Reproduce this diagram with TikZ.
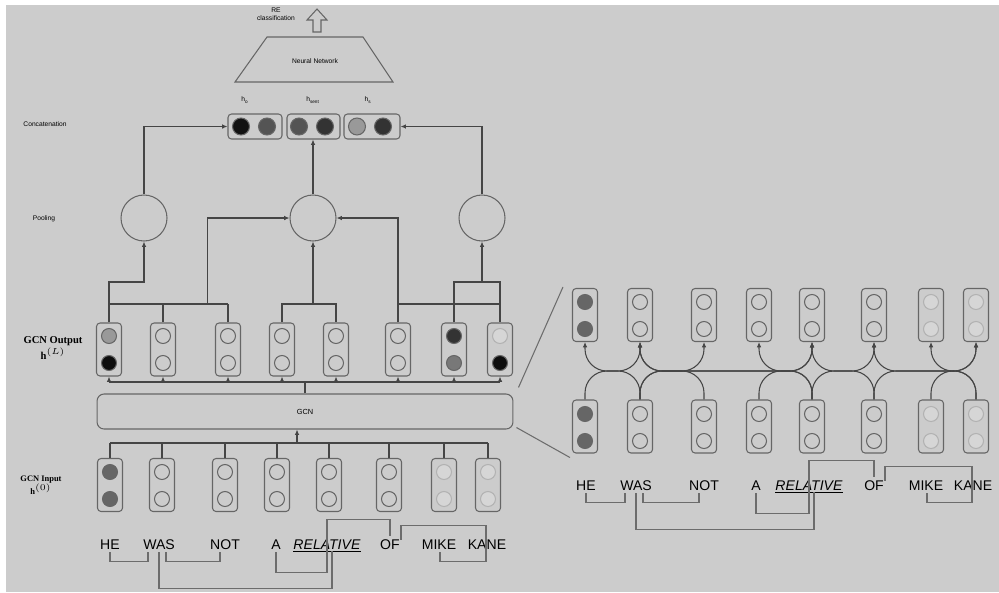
\documentclass[tikz,border=0pt]{standalone}
\usepackage{fontspec}
\setmainfont{Liberation Serif}
\setsansfont{Liberation Sans}
\usepackage{tikz}
\usetikzlibrary{positioning}
\usetikzlibrary{arrows.meta}
\usetikzlibrary{calc}
\definecolor{bg}{HTML}{CCCCCC}
\definecolor{wire}{HTML}{454545}
\definecolor{rim}{HTML}{666666}
\definecolor{dep_gray}{HTML}{6C6C6C}
\tikzset{
cell/.style={rectangle, rounded corners=2pt, draw=rim, line width=0.6pt, minimum width=0.5cm, minimum height=1.06cm},
cat_box/.style={rectangle, rounded corners=2pt, draw=rim, line width=0.6pt, minimum width=1.08cm, minimum height=0.5cm},
dot/.style={circle, draw=rim, line width=0.6pt, minimum size=0.3cm, inner sep=0pt},
hollow_dot/.style={dot},
dark_dot/.style={dot, fill=black!60},
pale_dot/.style={dot, fill=black!16, draw=black!30},
gray_dot/.style={dot, fill=black!40},
black_dot/.style={dot, fill=black!95},
coal_dot/.style={dot, fill=black!80},
ash_dot/.style={dot, fill=black!53},
big_dot/.style={dot, minimum size=0.34cm},
pool/.style={circle, draw=rim, line width=0.6pt, minimum size=0.92cm},
gcn_box/.style={rectangle, rounded corners=4pt, draw=rim, line width=0.6pt, minimum width=8.32cm, minimum height=0.7cm, font=\sffamily\fontsize{4.2}{5}\selectfont},
tiny_label/.style={font=\sffamily\fontsize{3.8}{4.4}\selectfont, align=center, inner sep=0pt},
side_label/.style={font=\bfseries\fontsize{6}{7}\selectfont, align=center, inner sep=0pt},
word/.style={font=\sffamily\fontsize{8}{9}\selectfont, inner sep=0pt, text height=5.8pt, text depth=0pt},
wire_line/.style={draw=wire, line width=0.6pt},
dep/.style={draw=dep_gray, line width=0.6pt},
edge/.style={draw=wire, line width=0.6pt, rounded corners=0.44cm},
zoom_line/.style={draw=dep_gray, line width=0.6pt}
}

\begin{document}
\begin{tikzpicture}[x=0.02cm, y=-0.02cm, >={Latex[length=3pt,width=2.6pt]}]
    \useasboundingbox (0,0) rectangle (999,592);
    \fill[white] (0,0) rectangle (999,592);
    \fill[bg] (6,5) rectangle (999,592);

    % row labels on the left
    \node[tiny_label] (lbl_concat) at (45,124) {Concatenation};
    \node[tiny_label] (lbl_pool) at (44,219) {Pooling};
    \node[side_label] (lbl_out) at (53,348) {GCN Output\\$\mathbf{h}^{(L)}$};
    \node[side_label, font=\bfseries\fontsize{4.8}{7.6}\selectfont] (lbl_in) at (41,485) {GCN Input\\$\mathbf{h}^{(0)}$};

    % classifier on top
    \node[tiny_label] (lbl_re) at (276,14) {RE\\classification};
    \draw[rim, line width=0.6pt] (313,32) -- (313,20) -- (307,20) -- (317,9) -- (327,20) -- (321,20) -- (321,32) -- cycle;
    \draw[rim, line width=0.6pt] (235,82) -- (267,37) -- (363,37) -- (393,82) -- cycle;
    \node[tiny_label] (nn) at (315,61) {Neural Network};

    % concatenated vector
    \node[cat_box] (cat1) at (255,126.5) {};
    \node[cat_box, minimum width=1.06cm] (cat2) at (313.5,126.5) {};
    \node[cat_box, minimum width=1.12cm] (cat3) at (372,126.5) {};
    \foreach \n/\x/\c in {c1/241/93, c2/267/67, c3/299/67, c4/325/80, c5/357/40, c6/383/80}
        \node[big_dot, fill=black!\c] (\n) at (\x,126.5) {};
    \node[tiny_label] (lbl_ho) at (245,100) {h\textsubscript{o}};
    \node[tiny_label] (lbl_hsent) at (313,100) {h\textsubscript{sent}};
    \node[tiny_label] (lbl_hs) at (368,100) {h\textsubscript{s}};

    % pooling
    \node[pool] (pool1) at (144,218) {};
    \node[pool] (pool2) at (313,218) {};
    \node[pool] (pool3) at (482,218) {};
    \draw[wire_line, ->] (pool1.north) |- (cat1.west);
    \draw[wire_line, ->] (pool2.north) -- (pool2.north |- cat2.south);
    \draw[wire_line, ->] (pool3.north) |- (cat3.east);

    % GCN output
    \foreach \i/\x/\ta/\tb in {1/109/gray_dot/black_dot, 2/163/hollow_dot/hollow_dot, 3/228/hollow_dot/hollow_dot, 4/282/hollow_dot/hollow_dot, 5/336/hollow_dot/hollow_dot, 6/398/hollow_dot/hollow_dot, 7/454/coal_dot/ash_dot, 8/500/pale_dot/black_dot} {
        \node[cell] (out\i) at (\x,349.5) {};
        \node[\ta] (out\i_a) at (\x,336) {};
        \node[\tb] (out\i_b) at (\x,363) {};
    }
    \coordinate (pool_bus) at (0,304);
    \coordinate (pool_top) at (0,282);
    \draw[wire_line] (out1.north |- pool_bus) -- (out3.north |- pool_bus);
    \draw[wire_line] (out2.north) -- (out2.north |- pool_bus);
    \draw[wire_line] (out3.north) -- (out3.north |- pool_bus);
    \draw[wire_line, ->] (out1.north) |- (pool1.south |- pool_top) -- (pool1.south);
    \draw[wire_line, ->] ($(out2.north |- pool_bus)!0.68!(out3.north |- pool_bus)$) |- (pool2.west);
    \draw[wire_line] (out4.north) |- (out5.north |- pool_bus) -- (out5.north);
    \draw[wire_line, ->] (pool2.south |- pool_bus) -- (pool2.south);
    \draw[wire_line, ->] (out6.north) |- (pool2.east);
    \draw[wire_line] (out6.north |- pool_bus) -- (out8.north |- pool_bus);
    \draw[wire_line] (out7.north) |- (out8.north |- pool_top) -- (out8.north);
    \draw[wire_line, ->] (pool3.south |- pool_top) -- (pool3.south);

    % GCN layer
    \node[gcn_box] (gcn) at (305,411.5) {GCN};
    \coordinate (out_bus) at (0,382);
    \draw[wire_line] (out1.south |- out_bus) -- (out8.south |- out_bus);
    \draw[wire_line] (gcn.north) -- (gcn.north |- out_bus);
    \foreach \i in {1,...,8}
        \draw[wire_line, ->] (out\i.south |- out_bus) -- (out\i.south);

    % GCN input
    \foreach \i/\x/\ta in {1/110/dark_dot, 2/162/hollow_dot, 3/225/hollow_dot, 4/277/hollow_dot, 5/329/hollow_dot, 6/389/hollow_dot, 7/444/pale_dot, 8/488/pale_dot} {
        \node[cell] (in\i) at (\x,485) {};
        \node[\ta] (in\i_a) at (\x,472) {};
        \node[\ta] (in\i_b) at (\x,499) {};
    }
    \coordinate (in_bus) at (0,443);
    \draw[wire_line] (in1.north |- in_bus) -- (in8.north |- in_bus);
    \foreach \i in {1,...,8}
        \draw[wire_line] (in\i.north) -- (in\i.north |- in_bus);
    \coordinate (gcn_in) at ($(gcn.south)+(-8,14)$);
    \draw[wire_line, ->] (gcn_in) -- (gcn_in |- gcn.south);

    % zoomed graph convolution
    \foreach \i/\x/\ta in {1/585/dark_dot, 2/640/hollow_dot, 3/704/hollow_dot, 4/759/hollow_dot, 5/812/hollow_dot, 6/874/hollow_dot, 7/931/pale_dot, 8/976/pale_dot} {
        \node[cell] (top\i) at (\x,315) {};
        \node[\ta] (top\i_a) at (\x,302) {};
        \node[\ta] (top\i_b) at (\x,329) {};
        \node[cell] (bot\i) at (\x,426.5) {};
        \node[\ta] (bot\i_a) at (\x,414) {};
        \node[\ta] (bot\i_b) at (\x,441) {};
    }
    \coordinate (mid_row) at (0,371);
    \foreach \a/\b in {1/2, 2/1, 2/3, 3/2, 2/5, 5/2, 4/5, 5/4, 5/6, 6/5, 6/8, 8/6, 7/8, 8/7}
        \draw[edge, ->] (bot\a.north) |- (top\b.south |- mid_row) -- (top\b.south);
    \draw[zoom_line] ($(gcn.north east)+(5,-6)$) -- ($(top1.north west)+(-9,-1)$);
    \draw[zoom_line] ($(gcn.south east)+(3,-2)$) -- ($(bot1.south west)+(-2,4)$);

    % sentence and dependency tree, twice
    \foreach \i/\w/\xl/\xr in {1/HE/110/586, 2/WAS/159/636, 3/NOT/225/704, 4/A/276/756, 5/{\underline{\textit{RELATIVE}}}/327/809, 6/OF/390/874, 7/MIKE/439/926, 8/KANE/487/973} {
        \node[word] (wl\i) at (\xl,544) {\w};
        \node[word] (wr\i) at (\xr,485) {\w};
    }
    \foreach \p in {wl,wr} {
        \draw[dep] ($(\p1.south)+(0,3)$) |- ($(\p2.south)+(-11,12)$) -- ($(\p2.south)+(-11,3)$);
        \draw[dep] ($(\p2.south)+(7,3)$) |- ($(\p3.south)+(-5,12)$) -- ($(\p3.south)+(-5,3)$);
        \draw[dep] ($(\p2.south)+(0,3)$) |- ($(\p5.south)+(5,39)$) -- ($(\p5.south)+(5,2)$);
        \draw[dep] ($(\p4.south)+(0,3)$) |- ($(\p5.south)+(0,23)$) -- ($(\p5.north)+(0,-19)$) -| ($(\p6.north)+(0,-3)$);
        \draw[dep] ($(\p6.north)+(11,1)$) |- ($(\p8.north)+(-1,-13)$) |- ($(\p7.south)+(1,12)$) -- ($(\p7.south)+(1,3)$);
    }
\end{tikzpicture}
\end{document}
